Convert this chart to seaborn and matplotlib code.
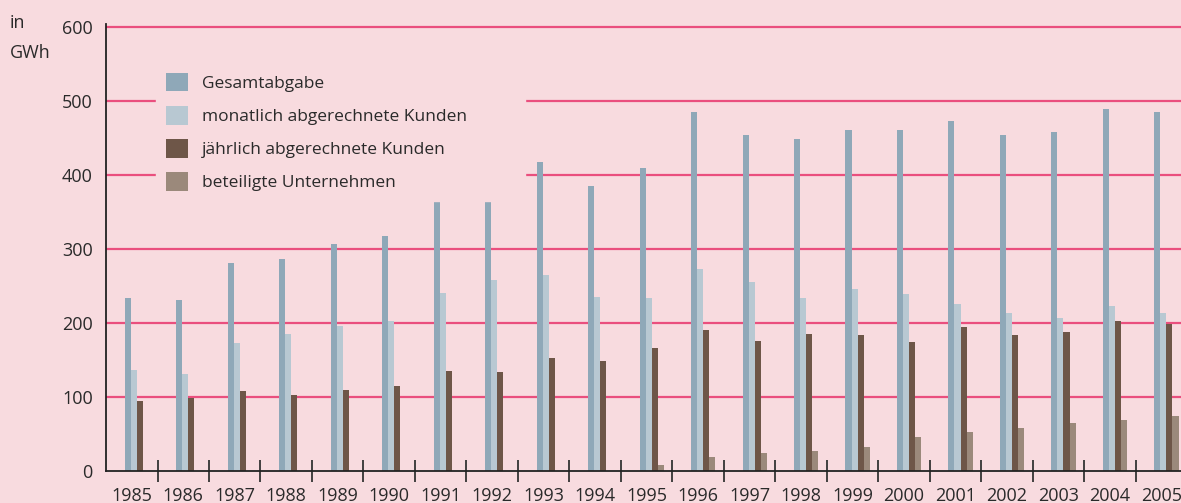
import numpy as np
import pandas as pd
import matplotlib.pyplot as plt
import seaborn as sns
from matplotlib.ticker import FixedLocator

jahre = [str(j) for j in range(1985, 2006)]
gesamtabgabe = [234, 231, 281, 287, 307, 318, 365, 365, 418, 385, 410,
                485, 455, 449, 461, 461, 473, 454, 459, 490, 485]
monatlich = [137, 131, 173, 185, 196, 203, 241, 258, 265, 235, 234,
             273, 255, 234, 246, 240, 226, 213, 207, 223, 213]
jaehrlich = [95, 99, 108, 103, 110, 115, 135, 134, 153, 149, 166,
             191, 176, 185, 184, 174, 195, 184, 188, 203, 199]
beteiligte = [0, 0, 0, 0, 0, 0, 0, 0, 0, 0, 8,
              19, 24, 27, 32, 46, 53, 58, 65, 69, 74]

serien = ["Gesamtabgabe", "monatlich abgerechnete Kunden",
          "jährlich abgerechnete Kunden", "beteiligte Unternehmen"]
farben = ["#8fa8b8", "#b8c8d2", "#6e5648", "#9b897b"]

bg = "#f8dbdf"
pink = "#ea4f7e"
txt = "#2a2a2a"

df = pd.DataFrame({"Jahr": jahre * 4,
                   "Wert": gesamtabgabe + monatlich + jaehrlich + beteiligte,
                   "Serie": np.repeat(serien, len(jahre))})

sns.set_style("white")
plt.rcParams['font.family'] = ['Open Sans', 'DejaVu Sans']

fig = plt.figure(figsize=(11.81, 5.03), dpi=100, facecolor=bg)
ax = fig.add_axes([0.0898, 0.0636, 0.9153, 0.8895])
ax.set_facecolor(bg)

sns.barplot(data=df, x="Jahr", y="Wert", hue="Serie", hue_order=serien,
            palette=farben, width=0.47, saturation=1, linewidth=0,
            ax=ax, zorder=3)

# bars sit slightly right of the category centre in the original
for p in ax.patches:
    p.set_x(p.get_x() + 0.1)

ax.set_xlim(-0.5, len(jahre) - 0.5)
ax.set_ylim(0, 605)
ax.set_yticks([0, 100, 200, 300, 400, 500, 600])
for v in [100, 200, 300, 400, 500, 600]:
    ax.axhline(v, color=pink, lw=1.6, zorder=1)

ax.set_xlabel("")
ax.set_ylabel("")
for s in ["top", "right"]:
    ax.spines[s].set_visible(False)
for s in ["left", "bottom"]:
    ax.spines[s].set_color("#222222")
    ax.spines[s].set_linewidth(1.3)
    ax.spines[s].set_zorder(5)

ax.tick_params(axis="y", left=False, labelsize=13, pad=6, colors=txt)
ax.tick_params(axis="x", which="major", bottom=False, labelsize=13, pad=8,
               colors=txt)
ax.xaxis.set_minor_locator(FixedLocator(np.arange(0.5, len(jahre) - 0.5, 1)))
ax.tick_params(axis="x", which="minor", bottom=True, direction="inout",
               length=16, width=1.3, color="#333333")

fig.text(0.008, 0.945, "in", fontsize=13, color=txt)
fig.text(0.008, 0.885, "GWh", fontsize=13, color=txt)

# legend box is wider than its text and hides the grid lines behind it
leg = ax.legend(loc="upper left", bbox_to_anchor=(0.0463, 0.912, 0.341, 0),
                mode="expand", frameon=True,
                fontsize=12.5, handlelength=1.3, handleheight=1.3,
                labelspacing=0.8, handletextpad=0.8, borderpad=0.55,
                borderaxespad=0)
leg.get_frame().set_facecolor(bg)
leg.get_frame().set_edgecolor(bg)
leg.get_frame().set_alpha(1)
leg.set_zorder(4)
for t in leg.get_texts():
    t.set_color(txt)

fig.savefig("out.png", dpi=100, facecolor=bg)
